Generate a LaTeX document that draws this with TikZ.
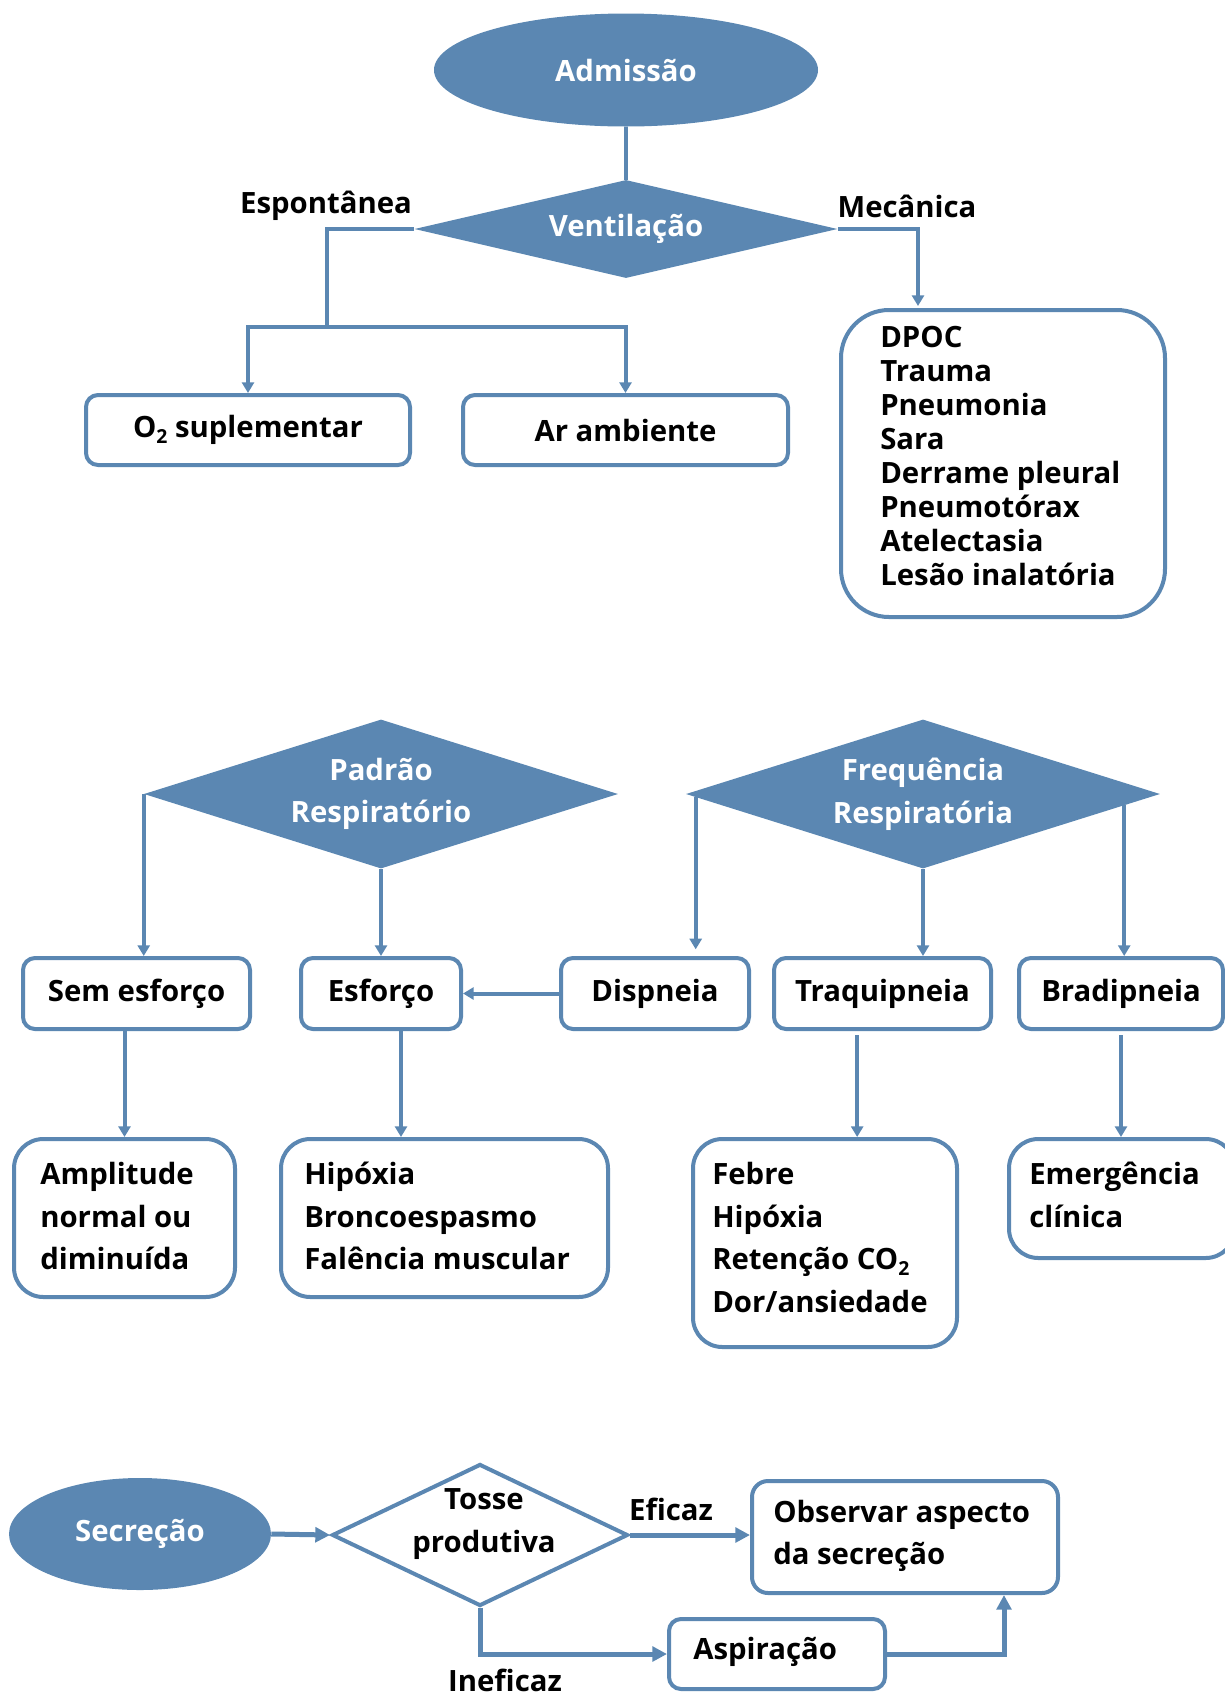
\documentclass[tikz,border=0pt]{standalone}
\usepackage{fontspec}
\setmainfont{Open Sans}
\usetikzlibrary{shapes.geometric,arrows.meta,calc}

\definecolor{steel}{RGB}{91,135,178}
\newcommand\fbody{\fontsize{22pt}{25.5pt}\selectfont\bfseries}
\newcommand\fwide{\fontsize{22pt}{32pt}\selectfont\bfseries}
\newcommand\subtwo{\raisebox{-0.35ex}{\fontsize{14.5pt}{14.5pt}\selectfont 2}}

\begin{document}
\begin{tikzpicture}[x=0.75pt,y=-0.75pt,
  box/.style={draw=steel, line width=3pt, rounded corners=9pt, fill=white,
              inner sep=0pt, font=\fbody},
  bigbox/.style={box, rounded corners=22pt},
  ell/.style={ellipse, fill=steel, text=white, inner sep=0pt, font=\fbody},
  dia/.style={diamond, aspect=3, fill=steel, text=white, inner sep=0pt,
              align=center, font=\fwide},
  lbl/.style={inner sep=0pt, font=\fbody},
  listtext/.style={anchor=west, align=left, inner sep=0pt},
  link/.style={draw=steel, line width=3pt},
  arr/.style={link, -{Triangle[length=8pt,width=9pt]}},
  arrB/.style={draw=steel, line width=3.75pt, -{Triangle[length=11pt,width=11pt]}}
]
\useasboundingbox (0,0) rectangle (1225,1693);

% ---------- ventilation ----------
\node[ell, minimum width=288pt, minimum height=84.75pt] (adm) at (626,70) {Admissão};
\node[dia, minimum width=317.25pt, minimum height=73.5pt] (vent) at (626,229) {\raisebox{-3pt}{Ventilação}};
\node[lbl] (espo) at (326,206) {Espontânea};
\node[lbl] (meca) at (907,206) {Mecânica};

\node[box, minimum width=243pt, minimum height=52.5pt] (o2) at (248,430) {O\subtwo{} suplementar};
\node[box, minimum width=243.75pt, minimum height=52.5pt] (ar) at (625.5,430) {Ar ambiente};
\node[bigbox, minimum width=243pt, minimum height=230.25pt, rounded corners=36pt] (dpoc) at (1003,463.5) {};
\node[listtext, font=\fbody] (dpoctxt) at (880,456)
  {DPOC\\Trauma\\Pneumonia\\Sara\\Derrame pleural\\Pneumotórax\\Atelectasia\\Lesão inalatória};

\draw[link] (adm.south) -- (vent.north);
\coordinate (split) at (327,327);
\draw[link] (vent.west) -| (split);
\draw[arr] (split) -| (o2.north);
\draw[arr] (split) -| (ar.north);
\coordinate (mecin) at (918,306);
\draw[arr] (vent.east) -| (mecin);

% ---------- respiratory pattern and rate ----------
\node[dia, minimum width=355.5pt, minimum height=111.75pt] (pad) at (381,794) {Padrão\\Respiratório};
\node[dia, minimum width=355.5pt, minimum height=111.75pt] (freq) at (923,794) {Frequência\\Respiratória};

\node[box, minimum width=170.25pt, minimum height=53.25pt] (sem) at (136.5,993.5) {Sem esforço};
\node[box, minimum width=120pt, minimum height=53.25pt] (esf) at (381,993.5) {Esforço};
\node[box, minimum width=141pt, minimum height=53.25pt] (disp) at (655,993.5) {Dispneia};
\node[box, minimum width=162.75pt, minimum height=53.25pt] (traq) at (882.5,993.5) {Traquipneia};
\node[box, minimum width=153pt, minimum height=53.25pt] (brad) at (1121,993.5) {Bradipneia};

\node[bigbox, minimum width=165.75pt, minimum height=118.5pt] (amp) at (124.5,1218) {};
\node[listtext, font=\fwide] (amptxt) at (40,1216) {Amplitude\\normal ou\\diminuída};
\node[bigbox, minimum width=245.25pt, minimum height=118.5pt] (hip) at (444.5,1218) {};
\node[listtext, font=\fwide] (hiptxt) at (304,1216) {Hipóxia\\Broncoespasmo\\Falência muscular};
\node[bigbox, minimum width=198pt, minimum height=156pt] (feb) at (825,1243) {};
\node[listtext, font=\fwide] (febtxt) at (712,1237.5) {Febre\\Hipóxia\\Retenção CO\subtwo\\Dor/ansiedade};
\node[bigbox, minimum width=169.5pt, minimum height=89.25pt] (emer) at (1122,1198.5) {};
\node[listtext, font=\fwide] (emertxt) at (1029,1195) {Emergência\\clínica};

\draw[arr] (pad.west) -- (pad.west |- sem.north);
\draw[arr] (pad.south) -- (esf.north);
\coordinate (fl) at ($(freq.west)!0.042!(freq.south)$);
\draw[arr, shorten >=5pt] (fl) -- (fl |- disp.north);
\draw[arr] (freq.south) -- (freq.south |- traq.north);
\coordinate (fr) at ($(freq.east)!0.152!(freq.south)$);
\draw[arr] (fr) -- (fr |- brad.north);
\draw[arr] (disp.west) -- (esf.east);

\draw[arr] (amp.north |- sem.south) -- (amp.north);
\draw[arr] ([xshift=15pt]esf.south) -- ([xshift=15pt]esf.south |- hip.north);
\draw[arr] ([xshift=-19pt,yshift=-3pt]traq.south) -- ([xshift=-19pt]traq.south |- feb.north);
\draw[arr] ([yshift=-3pt]brad.south) -- (brad.south |- emer.north);

% ---------- secretion ----------
\node[ell, minimum width=196.5pt, minimum height=84pt] (sec) at (140,1534) {Secreção};
\node[diamond, draw=steel, line width=3pt, fill=white, inner sep=0pt,
      minimum width=222pt, minimum height=106.5pt] (tosse) at (480,1535) {};
\node[lbl, align=center, font=\fwide] (tossetxt) at (484,1524) {Tosse\\produtiva};
\node[bigbox, rounded corners=12pt, minimum width=229.5pt, minimum height=84pt] (obs) at (905,1537) {};
\node[listtext, font=\fwide] (obstxt) at (773,1536) {Observar aspecto\\da secreção};
\node[box, minimum width=162pt, minimum height=52.5pt] (asp) at (777,1654) {};
\node[listtext, font=\fbody] (asptxt) at (693,1652) {Aspiração};
\node[lbl] (efic) at (671,1509) {Eficaz};
\node[lbl] (inef) at (505,1680) {Ineficaz};

\draw[arrB] (sec.east) -- (tosse.west);
\draw[arrB] (tosse.east) -- (tosse.east -| obs.west);
\draw[arrB] (tosse.south) |- (asp.west);
\coordinate (obsin) at ([xshift=74.25pt]obs.south);
\draw[arrB] (asp.east) -| (obsin);
\end{tikzpicture}
\end{document}
